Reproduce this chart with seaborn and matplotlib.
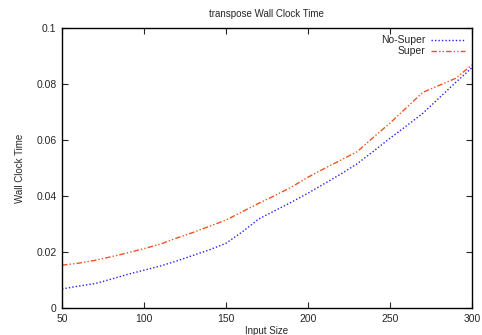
import numpy as np
import pandas as pd
import matplotlib
matplotlib.use("Agg")
import matplotlib.pyplot as plt
import seaborn as sns

sns.set_style("ticks")
plt.rcParams['font.family'] = ['Liberation Sans', 'DejaVu Sans']

# data
input_size = [50, 60, 70, 80, 90, 100, 110, 120, 130, 140, 150, 160, 170,
              180, 190, 200, 210, 220, 230, 240, 250, 260, 270, 280, 290, 300]
no_super = [0.0068, 0.0078, 0.0087, 0.0103, 0.0120, 0.0135, 0.0150, 0.0168,
            0.0188, 0.0208, 0.0231, 0.0272, 0.0318, 0.0348, 0.0378, 0.0410,
            0.0444, 0.0478, 0.0515, 0.0560, 0.0606, 0.0650, 0.0695, 0.0750,
            0.0805, 0.0858]
super_ = [0.0153, 0.0160, 0.0170, 0.0183, 0.0197, 0.0212, 0.0228, 0.0250,
          0.0270, 0.0292, 0.0314, 0.0344, 0.0374, 0.0402, 0.0432, 0.0467,
          0.0498, 0.0528, 0.0558, 0.0610, 0.0660, 0.0715, 0.0770, 0.0795,
          0.0820, 0.0868]

df = pd.DataFrame({
    "Input Size": input_size * 2,
    "Wall Clock Time": no_super + super_,
    "series": ["No-Super"] * len(input_size) + ["Super"] * len(input_size),
})

fig = plt.figure(figsize=(4.82, 3.35), dpi=100)
ax = fig.add_axes([0.1286, 0.0806, 0.8504, 0.8358])

sns.lineplot(data=df, x="Input Size", y="Wall Clock Time", hue="series",
             style="series",
             palette={"No-Super": "#2222ee", "Super": "#ee5522"},
             dashes={"No-Super": (1, 1.5), "Super": (4, 1.5, 1, 1.5, 1, 1.5)},
             linewidth=1.0, ax=ax)

ax.set_xlim(50, 300)
ax.set_ylim(0, 0.1)
ax.set_xticks([50, 100, 150, 200, 250, 300])
ax.set_yticks([0, 0.02, 0.04, 0.06, 0.08, 0.1])
ax.set_yticklabels(["0", "0.02", "0.04", "0.06", "0.08", "0.1"])
ax.tick_params(direction="in", top=True, right=True, labelsize=7.5,
               length=4, width=0.8, pad=4)
for s in ax.spines.values():
    s.set_linewidth(1.0)
    s.set_color("black")

ax.set_title("transpose Wall Clock Time", fontsize=7, pad=8)
ax.set_xlabel("Input Size", fontsize=7, labelpad=1.5)
ax.set_ylabel("Wall Clock Time", fontsize=7, labelpad=8)

leg = ax.legend(loc="upper right", frameon=False, markerfirst=False,
                fontsize=7.5, handlelength=3.2, handletextpad=0.6,
                labelspacing=0.1, borderaxespad=0.3)

fig.savefig("out.png", dpi=100)
